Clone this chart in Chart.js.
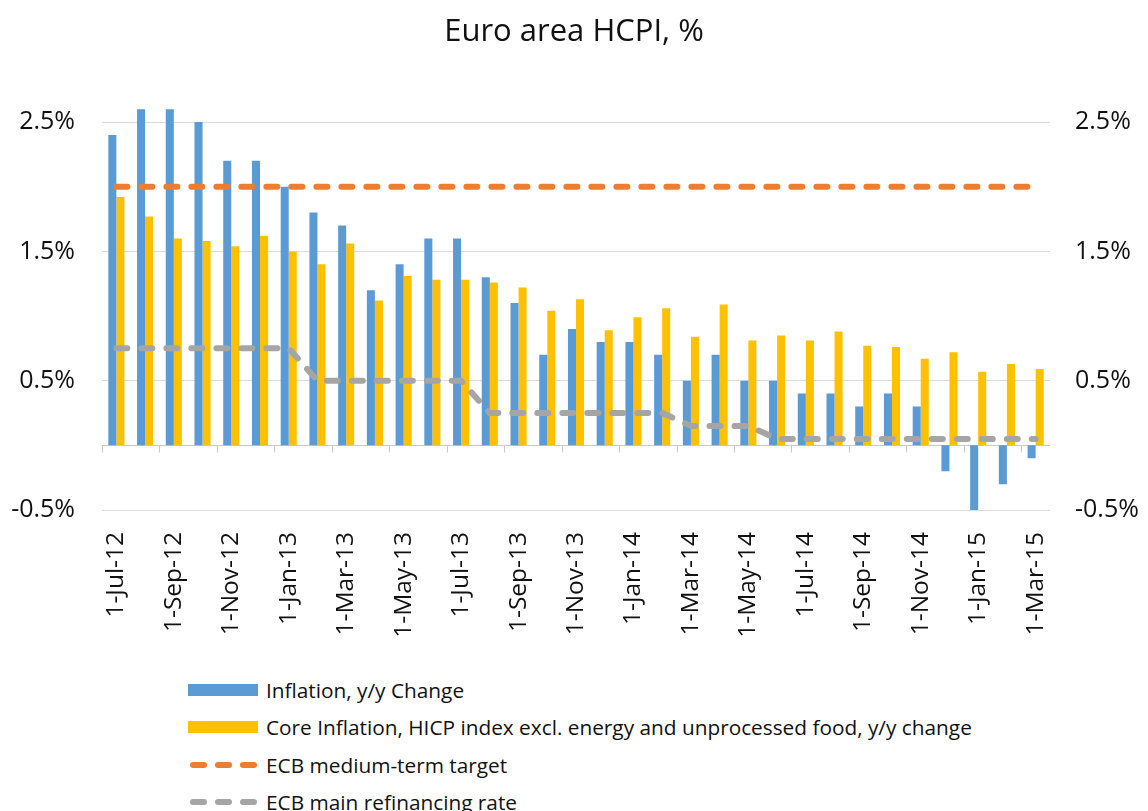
<!DOCTYPE html>
<html>
<head>
<meta charset="utf-8">
<script src="https://cdn.jsdelivr.net/npm/chart.js@4"></script>
<style>
  html, body { margin: 0; padding: 0; background: #fff; overflow: hidden; }
  #wrap { position: relative; width: 1148px; height: 660px; }
  #legend { position: absolute; left: 188px; top: 671px; font-family: "Open Sans", sans-serif; font-size: 20.8px; color: #111; }
  .item { display: flex; align-items: center; height: 37.5px; white-space: nowrap; }
  .swatch { width: 70px; height: 12px; margin-right: 8px; }
</style>
</head>
<body>
<div id="wrap"><canvas id="grafico-hcpi" width="1148" height="660"></canvas></div>
<div id="legend"></div>
<script>
const labels = ['1-Jul-12', '1-Aug-12', '1-Sep-12', '1-Oct-12', '1-Nov-12', '1-Dec-12',
    '1-Jan-13', '1-Feb-13', '1-Mar-13', '1-Apr-13', '1-May-13', '1-Jun-13',
    '1-Jul-13', '1-Aug-13', '1-Sep-13', '1-Oct-13', '1-Nov-13', '1-Dec-13',
    '1-Jan-14', '1-Feb-14', '1-Mar-14', '1-Apr-14', '1-May-14', '1-Jun-14',
    '1-Jul-14', '1-Aug-14', '1-Sep-14', '1-Oct-14', '1-Nov-14', '1-Dec-14',
    '1-Jan-15', '1-Feb-15', '1-Mar-15'];

const inflacion = [2.4, 2.6, 2.6, 2.5, 2.2, 2.2, 2.0, 1.8, 1.7, 1.2, 1.4, 1.6,
    1.6, 1.3, 1.1, 0.7, 0.9, 0.8, 0.8, 0.7, 0.5, 0.7, 0.5, 0.5,
    0.4, 0.4, 0.3, 0.4, 0.3, -0.2, -0.5, -0.3, -0.1];

const inflacionCore = [1.92, 1.77, 1.6, 1.58, 1.54, 1.62, 1.5, 1.4, 1.56, 1.12, 1.31, 1.28,
    1.28, 1.26, 1.22, 1.04, 1.13, 0.89, 0.99, 1.06, 0.84, 1.09, 0.81, 0.85,
    0.81, 0.88, 0.77, 0.76, 0.67, 0.72, 0.57, 0.63, 0.59];

const objetivoBCE = [2, 2, 2, 2, 2, 2, 2, 2, 2, 2, 2, 2,
    2, 2, 2, 2, 2, 2, 2, 2, 2, 2, 2, 2,
    2, 2, 2, 2, 2, 2, 2, 2, 2];

const tasaRefi = [0.75, 0.75, 0.75, 0.75, 0.75, 0.75, 0.75, 0.5, 0.5, 0.5, 0.5, 0.5,
    0.5, 0.25, 0.25, 0.25, 0.25, 0.25, 0.25, 0.25, 0.15, 0.15, 0.15, 0.05,
    0.05, 0.05, 0.05, 0.05, 0.05, 0.05, 0.05, 0.05, 0.05];

const yTicks = [-0.5, 0.5, 1.5, 2.5];

const series = [
    { label: 'Inflation, y/y Change', color: '#5B9BD5', tipo: 'bar' },
    { label: 'Core Inflation, HICP index excl. energy and unprocessed food, y/y change', color: '#FFC000', tipo: 'bar' },
    { label: 'ECB medium-term target', color: '#ED7D31', tipo: 'line' },
    { label: 'ECB main refinancing rate', color: '#A5A5A5', tipo: 'line' }
];

const fuente = '"Open Sans", sans-serif';

// linea del cero con marcas cada dos meses
const ejeCero = {
    id: 'ejeCero',
    beforeDatasetsDraw(chart) {
        const { ctx, chartArea, scales: { x, y } } = chart;
        const y0 = Math.round(y.getPixelForValue(0)) + 0.5;
        const half = (x.getPixelForValue(1) - x.getPixelForValue(0)) / 2;
        ctx.save();
        ctx.strokeStyle = '#C9C9C9';
        ctx.lineWidth = 1;
        ctx.beginPath();
        ctx.moveTo(chartArea.left, y0);
        ctx.lineTo(chartArea.right, y0);
        for (let i = 0; i < labels.length; i += 2) {
            const px = Math.round(x.getPixelForValue(i) - half) + 0.5;
            ctx.moveTo(px, y0);
            ctx.lineTo(px, y0 + 7);
        }
        ctx.stroke();
        ctx.restore();
    }
};

const barra = (i, data) => ({
    label: series[i].label, data, backgroundColor: series[i].color,
    categoryPercentage: 0.56, barPercentage: 1.0, borderWidth: 0, order: 2
});
const linea = (i, data) => ({
    type: 'line', label: series[i].label, data, borderColor: series[i].color,
    borderWidth: 6, borderDash: [11, 14], borderCapStyle: 'round',
    pointRadius: 0, tension: 0, fill: false, order: 1
});

const ejeY = (pos, ancho, pad) => ({
    position: pos, min: -0.5, max: 2.7,
    afterBuildTicks: s => { s.ticks = yTicks.map(v => ({ value: v })); },
    afterFit: s => { s.width = ancho; },
    grid: { display: pos === 'left', color: '#DCDCDC', drawTicks: false },
    border: { display: false },
    ticks: { padding: pad, color: '#111', font: { family: fuente, size: 25 }, callback: v => v.toFixed(1) + '%' }
});

new Chart(document.getElementById('grafico-hcpi').getContext('2d'), {
    type: 'bar',
    data: {
        labels,
        datasets: [
            barra(0, inflacion),
            barra(1, inflacionCore),
            linea(2, objetivoBCE),
            linea(3, tasaRefi)
        ]
    },
    options: {
        responsive: false,
        animation: false,
        devicePixelRatio: 1,
        layout: { padding: 0 },
        plugins: {
            legend: { display: false },
            tooltip: { enabled: false },
            title: {
                display: true, text: 'Euro area HCPI, %', color: '#111',
                font: { family: fuente, size: 31, weight: 'normal' },
                padding: { top: 14, bottom: 45 }
            }
        },
        scales: {
            x: {
                grid: { display: false },
                border: { display: false },
                afterFit: s => { s.height = 150; },
                ticks: {
                    autoSkip: false, maxRotation: 90, minRotation: 90, padding: 14,
                    color: '#111', font: { family: fuente, size: 24.5 },
                    callback: (v, i) => (i % 2 === 0 ? labels[i] : '')
                }
            },
            y: ejeY('left', 102, 27),
            y2: ejeY('right', 98, 25)
        }
    },
    plugins: [ejeCero]
});

// leyenda en html, una fila por serie
const leyenda = document.getElementById('legend');
series.forEach(s => {
    const fila = document.createElement('div');
    fila.className = 'item';
    let muestra;
    if (s.tipo === 'bar') {
        muestra = '<div class="swatch" style="background:' + s.color + '"></div>';
    } else {
        muestra = '<svg class="swatch" width="70" height="12"><line x1="5" y1="6" x2="66" y2="6" stroke="' + s.color +
            '" stroke-width="6" stroke-linecap="round" stroke-dasharray="11 14"/></svg>';
    }
    fila.innerHTML = muestra + '<span>' + s.label + '</span>';
    leyenda.appendChild(fila);
});
</script>
</body>
</html>
